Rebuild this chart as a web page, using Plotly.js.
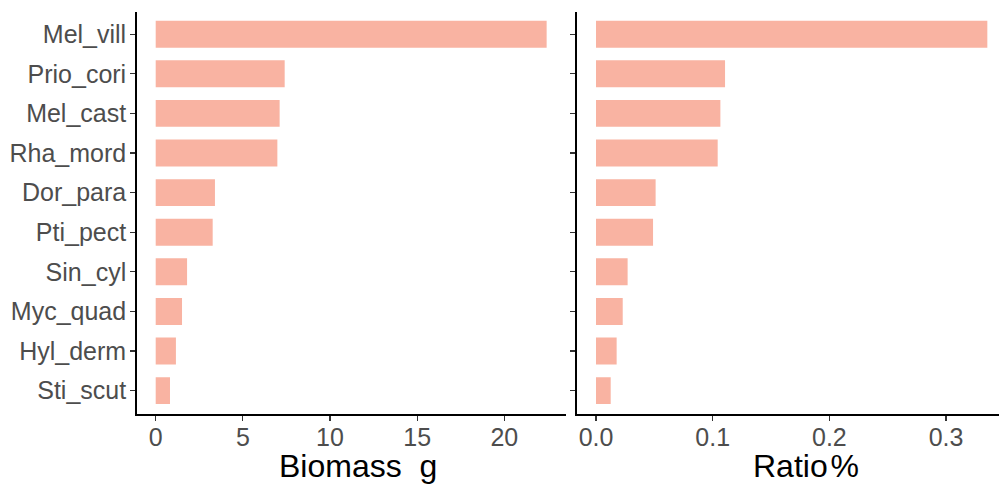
<!DOCTYPE html>
<html>
<head>
<meta charset="utf-8">
<script src="https://cdn.plot.ly/plotly-3.0.1.min.js"></script>
<style>html,body{margin:0;padding:0;background:#fff;}#chart{width:1000px;height:484px;}</style>
</head>
<body>
<div id="chart"></div>
<script>
// Species (top to bottom)
const species = ["Mel_vill","Prio_cori","Mel_cast","Rha_mord","Dor_para","Pti_pect","Sin_cyl","Myc_quad","Hyl_derm","Sti_scut"];
const biomass = [22.43, 7.40, 7.11, 6.98, 3.40, 3.27, 1.80, 1.51, 1.16, 0.82];
const ratio = [0.3354, 0.1106, 0.1066, 0.1043, 0.0511, 0.0489, 0.0271, 0.0229, 0.0177, 0.0126];
const biomassTicks = [0, 5, 10, 15, 20];
const ratioTicks = [0, 0.1, 0.2, 0.3];
const ratioTickText = ["0.0", "0.1", "0.2", "0.3"];

const barColor = "#F9B3A2";
const tickFont = {family: "Liberation Sans, Arial, sans-serif", size: 25, color: "#4D4D4D"};
const titleFont = {family: "Liberation Sans, Arial, sans-serif", size: 32, color: "#000000"};

const ys = species.slice().reverse();
const trace1 = {
  type: "bar", orientation: "h",
  x: biomass.slice().reverse(), y: ys,
  xaxis: "x", yaxis: "y",
  width: 0.68,
  marker: {color: barColor, line: {width: 0}},
  hoverinfo: "x+y"
};
const trace2 = {
  type: "bar", orientation: "h",
  x: ratio.slice().reverse(), y: ys,
  xaxis: "x2", yaxis: "y2",
  width: 0.68,
  marker: {color: barColor, line: {width: 0}},
  hoverinfo: "x+y"
};

const yDomain = [(484 - 414) / 484, (484 - 12) / 484];
const axisCommon = {
  showgrid: false, zeroline: false, showline: true,
  linecolor: "#000000", linewidth: 1.5,
  ticks: "outside", ticklen: 5, tickwidth: 1.2, tickcolor: "#333333",
  tickfont: tickFont, fixedrange: true
};

const layout = {
  width: 1000, height: 484,
  margin: {l: 0, r: 0, t: 0, b: 0},
  paper_bgcolor: "#ffffff", plot_bgcolor: "#ffffff",
  showlegend: false,
  xaxis: Object.assign({}, axisCommon, {
    domain: [136.7 / 1000, 566 / 1000], anchor: "y",
    range: [-1.09, 23.54],
    tickvals: biomassTicks, ticktext: biomassTicks.map(String),
    ticklabelstandoff: -5
  }),
  yaxis: Object.assign({}, axisCommon, {
    domain: yDomain, anchor: "x",
    type: "category", range: [-0.59, 9.56],
    categoryorder: "array", categoryarray: ys,
    ticklabelstandoff: -1
  }),
  xaxis2: Object.assign({}, axisCommon, {
    domain: [576.7 / 1000, 999 / 1000], anchor: "y2",
    range: [-0.01654, 0.3454],
    tickvals: ratioTicks, ticktext: ratioTickText,
    ticklabelstandoff: -5
  }),
  yaxis2: Object.assign({}, axisCommon, {
    domain: yDomain, anchor: "x2",
    type: "category", range: [-0.59, 9.56],
    categoryorder: "array", categoryarray: ys,
    showticklabels: false
  }),
  annotations: [
    {text: "Biomass\u00a0\u00a0g", xref: "paper", yref: "paper", x: 358 / 1000, y: (484 - 466) / 484,
     xanchor: "center", yanchor: "middle", showarrow: false, font: titleFont},
    {text: "Ratio\u200a%", xref: "paper", yref: "paper", x: 806 / 1000, y: (484 - 466) / 484,
     xanchor: "center", yanchor: "middle", showarrow: false, font: titleFont}
  ]
};

Plotly.newPlot("chart", [trace1, trace2], layout, {displayModeBar: false, staticPlot: true});
</script>
</body>
</html>
